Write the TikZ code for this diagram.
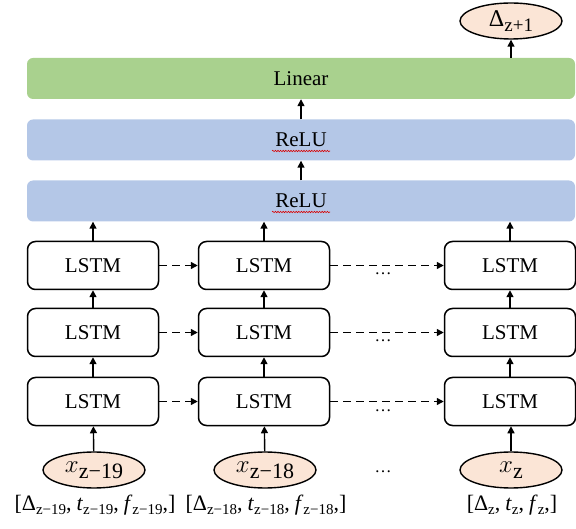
\documentclass[tikz,border=0pt]{standalone}
\usepackage{fontspec}
\setmainfont{Liberation Serif}
\usetikzlibrary{arrows.meta,decorations.pathmorphing,shapes.geometric}

\definecolor{lingreen}{HTML}{A9D18E}
\definecolor{relublue}{HTML}{B4C7E7}
\definecolor{inpeach}{HTML}{FBE5D6}

% lowered index in a given size
\newcommand\idx[3]{\raisebox{-#2}{\fontsize{#1}{#1}\selectfont #3}}
\newcommand\lblsub[1]{\idx{15}{4.5pt}{#1}}
\newcommand\gap{,\hspace{5pt}}

\tikzset{
  layer/.style={rounded corners=6pt, minimum height=41pt, minimum width=548pt,
    inner sep=0pt, font=\fontsize{21}{21}\selectfont},
  cell/.style={draw=black, line width=1.5pt, rounded corners=8pt,
    minimum width=131pt, minimum height=48pt, inner sep=0pt, fill=white,
    font=\fontsize{21}{21}\selectfont},
  io/.style={ellipse, draw=black, line width=1.4pt, fill=inpeach,
    minimum width=102pt, minimum height=36pt, inner sep=0pt},
  up/.style={-{Triangle[length=7pt,width=7pt]}, line width=1.4pt},
  rec/.style={up, line width=1.5pt, dash pattern=on 8pt off 5pt},
  lbl/.style={inner sep=0pt, font=\fontsize{22}{22}\selectfont},
  dotsn/.style={inner sep=0pt, anchor=base, font=\fontsize{17}{17}\selectfont},
  squig/.style={draw=red!85!black, line width=0.6pt,
    decorate, decoration={snake, amplitude=0.7pt, segment length=2.6pt}},
}

\begin{document}
\begin{tikzpicture}[x=1pt, y=-1pt]
\useasboundingbox (0,0) rectangle (576,529);

% dense layers
\node[layer, fill=lingreen] (linear) at (301,78.5) {Linear};
\node[layer, fill=relublue] (relu1) at (301,140) {ReLU};
\node[layer, fill=relublue] (relu2) at (301,201) {ReLU};
\draw[squig] ([xshift=-29pt,yshift=-11pt]relu1.center) -- ([xshift=29pt,yshift=-11pt]relu1.center);
\draw[squig] ([xshift=-29pt,yshift=-11pt]relu2.center) -- ([xshift=29pt,yshift=-11pt]relu2.center);

% output
\node[io] (out) at (511,21) {\fontsize{24}{24}\selectfont Δ\idx{19}{5pt}{z+1}};

% stacked LSTM cells: rows 1..3 (top to bottom), columns a, b, c
\foreach \r/\y in {1/265.5, 2/332.5, 3/401.5} {
  \node[cell] (a\r) at (93,\y) {LSTM};
  \node[cell] (b\r) at (264,\y) {LSTM};
  \node[cell] (c\r) at (510,\y) {LSTM};
}

% inputs
\node[io] (xa) at (94,470) {{\fontsize{28}{28}\selectfont$x$}\idx{22}{6pt}{z−19}};
\node[io] (xb) at (265,470) {{\fontsize{28}{28}\selectfont$x$}\idx{22}{6pt}{z−18}};
\node[io] (xc) at (511,470) {{\fontsize{28}{28}\selectfont$x$}\idx{22}{6pt}{z}};

\node[lbl] (la) at (95,505) {[Δ\lblsub{z−19}\gap\textit{t}\lblsub{z−19}\gap\textit{f}\lblsub{z−19},]};
\node[lbl] (lb) at (266,505) {[Δ\lblsub{z−18}\gap\textit{t}\lblsub{z−18}\gap\textit{f}\lblsub{z−18},]};
\node[lbl] (lc) at (512,505) {[Δ\lblsub{z}\gap\textit{t}\lblsub{z}\gap\textit{f}\lblsub{z},]};

% ellipsis marks
\node[dotsn] (d1) at (383,275) {…};
\node[dotsn] (d2) at (383,342) {…};
\node[dotsn] (d3) at (383,411) {…};
\node[dotsn] (d4) at (383,472) {…};

% vertical flow
\draw[up] (xa) -- (a3);
\draw[up] (xb) -- (b3);
\draw[up] (xc.north) -- (xc.north |- c3.south);
\foreach \c in {a,b,c} {
  \draw[up] (\c3) -- (\c2);
  \draw[up] (\c2) -- (\c1);
  \draw[up] (\c1.north) -- (\c1.north |- relu2.south);
}
\draw[up] (relu2) -- (relu1);
\draw[up] (relu1) -- (linear);
\draw[up] (out.south |- linear.north) -- (out.south);

% recurrent connections
\foreach \r in {1,2,3} {
  \draw[rec] (a\r) -- (b\r);
  \draw[rec] (b\r) -- (c\r);
}
\end{tikzpicture}
\end{document}
